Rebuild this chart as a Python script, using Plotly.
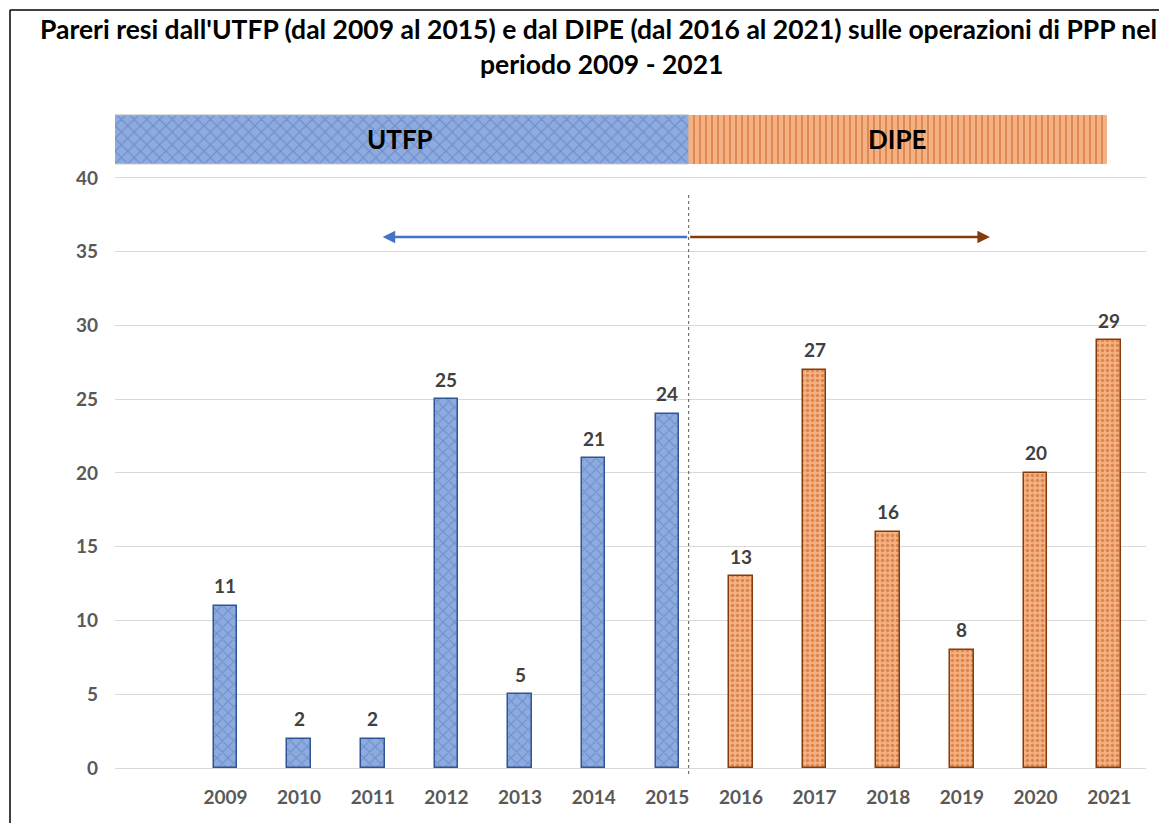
import plotly.graph_objects as go

years_utfp = ["2009", "2010", "2011", "2012", "2013", "2014", "2015"]
vals_utfp = [11, 2, 2, 25, 5, 21, 24]
years_dipe = ["2016", "2017", "2018", "2019", "2020", "2021"]
vals_dipe = [13, 27, 16, 8, 20, 29]
y_ticks = [0, 5, 10, 15, 20, 25, 30, 35, 40]
title_1 = "Pareri resi dall'UTFP (dal 2009 al 2015) e dal DIPE (dal 2016 al 2021) sulle operazioni di PPP nel"
title_2 = "periodo 2009 - 2021"

FONT = "Lato"
OFF = 8  # page body margin
W, H = 1167 - OFF, 823 - OFF
ML, MR, MT, MB = 115 - OFF, 21, 113 - OFF, 55

years = years_utfp + years_dipe
x_utfp = list(range(1, 1 + len(years_utfp)))
x_dipe = list(range(1 + len(years_utfp), 1 + len(years)))
x_all = x_utfp + x_dipe

# decorative positions (axis units)
split_x = 7.29
ban_left, ban_right = -0.56, 12.97
ban_bot, ban_top = 40.95, 44.27
arrow_y = 36
arrow_left, arrow_right = 3.135, 11.38

BLUE_BG, BLUE_FG, BLUE_LINE = "#8FAADC", "#4472C4", "#2F5597"
OR_BG, OR_FG, OR_LINE = "#F4B183", "#C55A11", "#843C0C"

fig = go.Figure()

# banners
fig.add_trace(go.Scatter(
    x=[ban_left, split_x, split_x, ban_left, ban_left],
    y=[ban_bot, ban_bot, ban_top, ban_top, ban_bot],
    fill="toself", mode="lines", line=dict(color="#BFBFBF", width=1),
    fillcolor=BLUE_BG,
    fillpattern=dict(shape="x", fgcolor=BLUE_FG, bgcolor=BLUE_BG, size=9, solidity=0.25),
    hoverinfo="skip", showlegend=False))
fig.add_trace(go.Scatter(
    x=[split_x, ban_right, ban_right, split_x, split_x],
    y=[ban_bot, ban_bot, ban_top, ban_top, ban_bot],
    fill="toself", mode="lines", line=dict(color=OR_BG, width=0),
    fillcolor=OR_BG,
    fillpattern=dict(shape="|", fgcolor=OR_FG, bgcolor=OR_BG, size=6, solidity=0.3),
    hoverinfo="skip", showlegend=False))

fig.add_trace(go.Bar(
    x=x_utfp, y=vals_utfp, width=0.32,
    marker=dict(color=BLUE_BG, line=dict(color=BLUE_LINE, width=1.5),
                pattern=dict(shape="x", fgcolor=BLUE_FG, bgcolor=BLUE_BG, size=8, solidity=0.25)),
    hoverinfo="skip", showlegend=False))
fig.add_trace(go.Bar(
    x=x_dipe, y=vals_dipe, width=0.32,
    marker=dict(color=OR_BG, line=dict(color=OR_LINE, width=1.5),
                pattern=dict(shape=".", fgcolor=OR_FG, bgcolor=OR_BG, size=5, solidity=0.4)),
    hoverinfo="skip", showlegend=False))

ann = []
for xv, v in zip(x_all, vals_utfp + vals_dipe):
    ann.append(dict(x=xv, y=v, text=f"<b>{v}</b>", showarrow=False, yshift=20,
                    font=dict(family=FONT, size=19, color="#404040")))

ann.append(dict(x=(ban_left + split_x) / 2, y=(ban_bot + ban_top) / 2, text="<b>UTFP</b>",
                showarrow=False, font=dict(family=FONT, size=26, color="#000000")))
ann.append(dict(x=(split_x + ban_right) / 2, y=(ban_bot + ban_top) / 2, text="<b>DIPE</b>",
                showarrow=False, font=dict(family=FONT, size=26, color="#000000")))

# arrows
ann.append(dict(x=arrow_left, y=arrow_y, ax=split_x, ay=arrow_y, xref="x", yref="y",
                axref="x", ayref="y", showarrow=True, arrowhead=2, arrowsize=1,
                arrowwidth=2.5, arrowcolor=BLUE_FG, text=""))
ann.append(dict(x=arrow_right, y=arrow_y, ax=split_x, ay=arrow_y, xref="x", yref="y",
                axref="x", ayref="y", showarrow=True, arrowhead=2, arrowsize=1,
                arrowwidth=2.5, arrowcolor=OR_LINE, text=""))

PW, PH = W - ML - MR, H - MT - MB
def py_paper(py):  # reference page pixel -> paper y
    return (H - MB - (py - OFF)) / PH
def px_paper(pxv):  # reference page pixel -> paper x
    return (pxv - OFF - ML) / PW

ann.append(dict(x=px_paper(598), y=py_paper(29), xref="paper", yref="paper",
                xanchor="center", yanchor="middle",
                text=f"<b>{title_1}</b>", showarrow=False,
                font=dict(family=FONT, size=26.5, color="#000000")))
ann.append(dict(x=px_paper(601), y=py_paper(64), xref="paper", yref="paper",
                xanchor="center", yanchor="middle",
                text=f"<b>{title_2}</b>", showarrow=False,
                font=dict(family=FONT, size=26.5, color="#000000")))

shapes = [
    dict(type="line", xref="x", yref="paper", x0=split_x, x1=split_x,
         y0=py_paper(195), y1=py_paper(776), line=dict(color="#595959", width=1, dash="dot")),
    dict(type="line", xref="paper", yref="paper", x0=px_paper(10), x1=px_paper(10),
         y0=py_paper(10), y1=py_paper(823), line=dict(color="#000000", width=1.5)),
    dict(type="line", xref="paper", yref="paper", x0=px_paper(10), x1=px_paper(1167),
         y0=py_paper(10), y1=py_paper(10), line=dict(color="#000000", width=1.5)),
]

fig.update_layout(
    width=W, height=H, margin=dict(l=ML, r=MR, t=MT, b=MB),
    paper_bgcolor="white", plot_bgcolor="white",
    annotations=ann, shapes=shapes, bargap=0,
    xaxis=dict(range=[-0.5, 13.5], tickvals=x_all, ticktext=[f"<b>{y}</b>" for y in years],
               showgrid=False, zeroline=False, showline=False, ticks="",
               tickfont=dict(family=FONT, size=19, color="#595959"), ticklabelstandoff=16),
    yaxis=dict(range=[0, 44.4], tickvals=y_ticks, ticktext=[f"<b>{t}</b>" for t in y_ticks],
               showgrid=True, gridcolor="#D9D9D9", gridwidth=1.3, zeroline=True,
               zerolinecolor="#D9D9D9", zerolinewidth=1.3, showline=False, ticks="",
               tickfont=dict(family=FONT, size=19, color="#595959"), ticklabelstandoff=16),
)

fig.write_html("out.html")
